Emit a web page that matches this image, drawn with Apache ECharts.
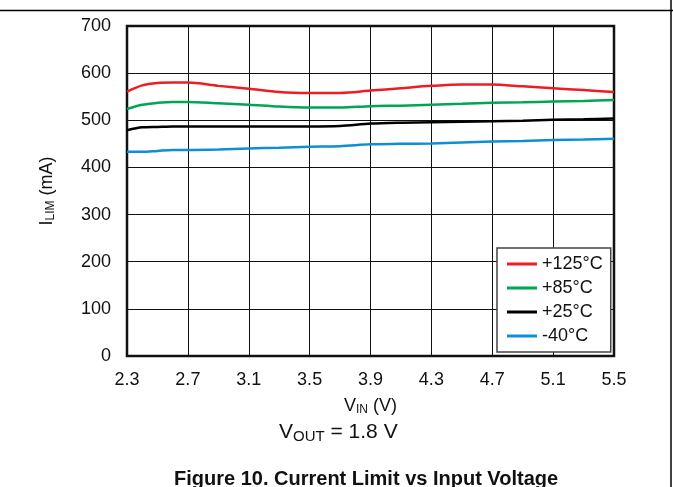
<!DOCTYPE html>
<html>
<head>
<meta charset="utf-8">
<script src="https://cdn.jsdelivr.net/npm/echarts@6/dist/echarts.min.js"></script>
<style>
  html, body { margin: 0; padding: 0; background: #fff; }
  #chart { width: 673px; height: 487px; }
</style>
</head>
<body>
<div id="chart"></div>
<script>
  // VIN (V) sample points
  const vin = [2.3, 2.4, 2.5, 2.6, 2.7, 2.9, 3.1, 3.3, 3.5, 3.7, 3.9, 4.1, 4.3, 4.5, 4.7, 4.9, 5.1, 5.3, 5.5]
  // ILIM (mA) per temperature
  const ilim125 = [561, 574, 579, 580, 580, 573, 567, 560, 558, 558, 563, 568, 573, 576, 576, 572, 568, 564, 560]
  const ilim85 = [524, 533, 537, 539, 539, 536, 533, 529, 527, 527, 530, 531, 533, 535, 537, 538, 540, 541, 543]
  const ilim25 = [479, 485, 486, 487, 487, 487, 487, 487, 487, 488, 493, 495, 496, 497, 498, 499, 501, 502, 504]
  const ilimM40 = [433, 433, 435, 437, 437, 438, 440, 442, 444, 445, 449, 450, 451, 453, 455, 456, 458, 459, 461]

  const seriesNames = ['+125°C', '+85°C', '+25°C', '-40°C']
  const seriesColors = ['#ee1c25', '#00a651', '#000000', '#0d8fd8']
  const seriesData = [ilim125, ilim85, ilim25, ilimM40]

  const font = 'Liberation Sans, Arial, sans-serif'
  const chart = echarts.init(document.getElementById('chart'))

  const option = {
    backgroundColor: '#fff',
    animation: false,
    grid: {
      left: 127,
      top: 26,
      width: 487,
      height: 330,
      show: true,
      borderColor: '#111',
      borderWidth: 2.5,
      backgroundColor: 'transparent'
    },
    legend: {
      orient: 'vertical',
      left: 497,
      top: 248,
      padding: [7, 8, 7, 10],
      itemGap: 6,
      itemWidth: 30,
      itemHeight: 3,
      icon: 'rect',
      borderColor: '#444',
      borderWidth: 1.5,
      backgroundColor: '#fff',
      textStyle: { fontFamily: font, fontSize: 18, color: '#111' },
      data: seriesNames
    },
    xAxis: {
      type: 'value',
      min: 2.3,
      max: 5.5,
      interval: 0.4,
      axisLine: { show: false },
      axisTick: { show: false },
      splitLine: { show: true, lineStyle: { color: '#111', width: 1 } },
      axisLabel: {
        margin: 15,
        fontFamily: font,
        fontSize: 18,
        color: '#111',
        formatter: v => v.toFixed(1)
      },
      name: '{m|V}{s|IN}{m| (V)}',
      nameLocation: 'middle',
      nameGap: 41,
      nameTextStyle: {
        rich: {
          m: { fontFamily: font, fontSize: 18, color: '#111' },
          s: { fontFamily: font, fontSize: 12, color: '#111', verticalAlign: 'bottom', padding: [7, 0, 0, 0] }
        }
      }
    },
    yAxis: {
      type: 'value',
      min: 0,
      max: 700,
      interval: 100,
      axisLine: { show: false },
      axisTick: { show: false },
      splitLine: { show: true, lineStyle: { color: '#111', width: 1 } },
      axisLabel: { margin: 16, fontFamily: font, fontSize: 18, color: '#111' },
      name: '{m|I}{s|LIM}{m| (mA)}',
      nameLocation: 'middle',
      nameGap: 70,
      nameTextStyle: {
        rich: {
          m: { fontFamily: font, fontSize: 18, color: '#111' },
          s: { fontFamily: font, fontSize: 12, color: '#111', verticalAlign: 'bottom', padding: [7, 0, 0, 0] }
        }
      }
    },
    graphic: [
      { type: 'line', shape: { x1: 0, y1: 10.5, x2: 673, y2: 10.5 }, style: { stroke: '#000', lineWidth: 1.5 } },
      { type: 'line', shape: { x1: 671, y1: 0, x2: 671, y2: 487 }, style: { stroke: '#000', lineWidth: 1.5 } },
      {
        type: 'text',
        left: 279,
        top: 422,
        style: {
          text: '{m|V}{s|OUT}{m| = 1.8 V}',
          rich: {
            m: { fontFamily: font, fontSize: 21, fill: '#111' },
            s: { fontFamily: font, fontSize: 15, fill: '#111', verticalAlign: 'bottom', padding: [9, 0, 0, 0] }
          }
        }
      },
      {
        type: 'text',
        left: 174,
        top: 469,
        style: {
          text: 'Figure 10. Current Limit vs Input Voltage',
          fontFamily: font,
          fontSize: 20,
          fontWeight: 'bold',
          fill: '#111'
        }
      }
    ],
    series: seriesNames.map((name, i) => ({
      name,
      type: 'line',
      data: vin.map((v, j) => [v, seriesData[i][j]]),
      smooth: 0.3,
      symbol: 'none',
      lineStyle: { color: seriesColors[i], width: 2.5 },
      itemStyle: { color: seriesColors[i] }
    }))
  }

  chart.setOption(option)
</script>
</body>
</html>
